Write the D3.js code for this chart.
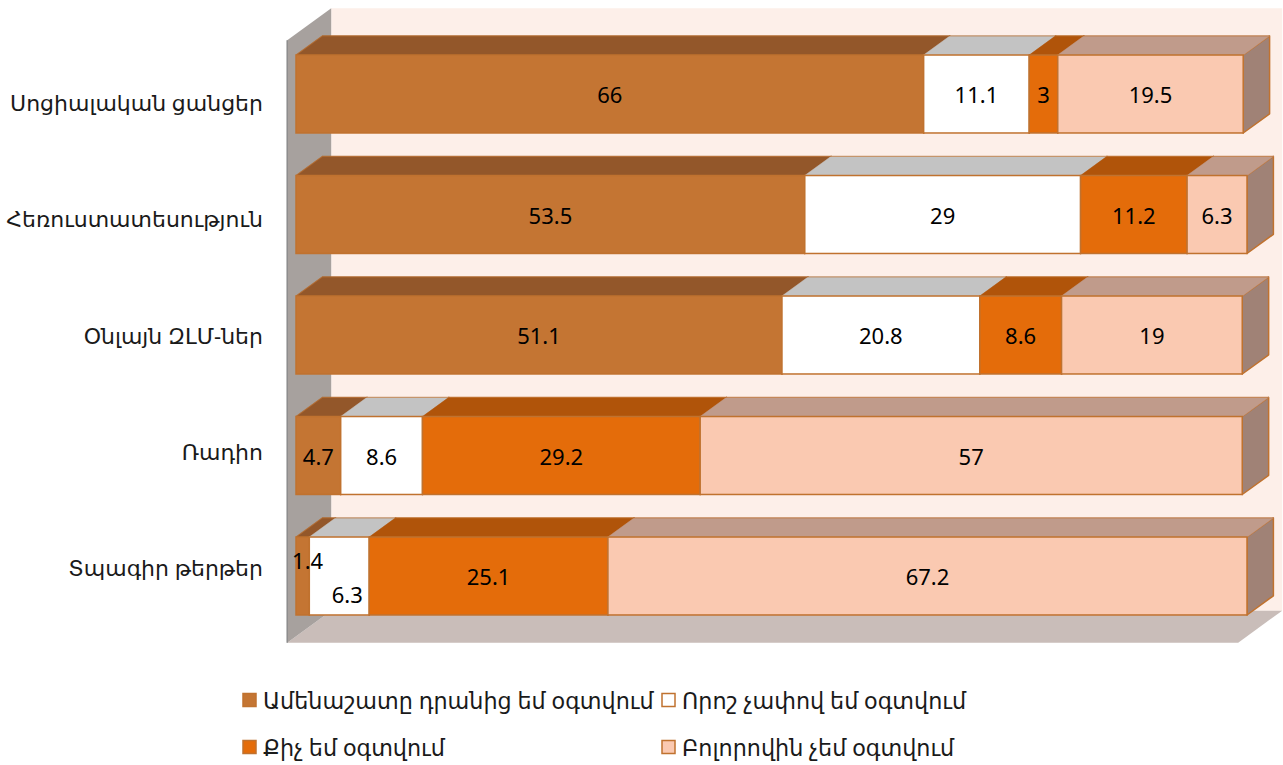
<!DOCTYPE html>
<html>
<head>
<meta charset="utf-8">
<script src="https://cdn.jsdelivr.net/npm/d3@7"></script>
<style>
  html, body { margin: 0; padding: 0; background: #ffffff; }
  svg { display: block; }
</style>
</head>
<body>
<svg id="chart" width="1283" height="765"></svg>
<script>
// Media sources, top to bottom
const categories = [
  "Սոցիալական ցանցեր",
  "Հեռուստատեսություն",
  "Օնլայն ԶԼՄ-ներ",
  "Ռադիո",
  "Տպագիր թերթեր"
];

// Answer options (stack order, left to right)
const seriesNames = [
  "Ամենաշատը դրանից եմ օգտվում",
  "Որոշ չափով եմ օգտվում",
  "Քիչ եմ օգտվում",
  "Բոլորովին չեմ օգտվում"
];

// Percentages per source, one array per answer option
const mostOften  = [66,   53.5, 51.1, 4.7,  1.4];
const somewhat   = [11.1, 29,   20.8, 8.6,  6.3];
const rarely     = [3,    11.2, 8.6,  29.2, 25.1];
const never      = [19.5, 6.3,  19,   57,   67.2];

const seriesValues = [mostOften, somewhat, rarely, never];

// Face colours for each series
const frontColors = ["#C47533", "#FFFFFF", "#E46C0A", "#FAC9B1"];
const topColors   = ["#93572A", "#C3C3C3", "#B0540A", "#C09B8B"];
const sideColors  = ["#7E4A22", "#A3A3A3", "#924608", "#A08276"];
const edgeColor   = "#C0722F";

const rows = categories.map((c, i) => {
  const r = { category: c };
  seriesNames.forEach((s, k) => { r[s] = seriesValues[k][i]; });
  return r;
});

const stacked = d3.stack().keys(seriesNames)(rows);

const svg = d3.select("#chart");

// Scales for the plane holding the bar front faces
const x = d3.scaleLinear().domain([0, 100]).range([296, 1247]);
const y = d3.scaleBand().domain(categories).range([33.75, 636.25])
  .paddingInner(0.353).paddingOuter(0.1765);

// Depth of the 3D box and of each bar within it
const depth = { dx: 44, dy: -32 };
const barOffset = { dx: depth.dx * 0.2, dy: depth.dy * 0.2 };
const barDepth = { dx: depth.dx * 0.6, dy: depth.dy * 0.6 };

// Box corners in the front plane
const fx0 = x(0) - barOffset.dx, fx1 = x(100) - barOffset.dx;
const fy0 = y.range()[0] - barOffset.dy, fy1 = y.range()[1] - barOffset.dy;

const pts = a => a.map(p => p.join(",")).join(" ");

// Back wall
svg.append("polygon")
  .attr("points", pts([[fx0 + depth.dx, fy0 + depth.dy], [fx1 + depth.dx, fy0 + depth.dy],
                       [fx1 + depth.dx, fy1 + depth.dy], [fx0 + depth.dx, fy1 + depth.dy]]))
  .attr("fill", "#FDEFE9");

// Floor
svg.append("polygon")
  .attr("points", pts([[fx0, fy1], [fx1, fy1], [fx1 + depth.dx, fy1 + depth.dy], [fx0 + depth.dx, fy1 + depth.dy]]))
  .attr("fill", "#C9BDB9");

// Left side wall
svg.append("polygon")
  .attr("points", pts([[fx0, fy0], [fx0 + depth.dx, fy0 + depth.dy], [fx0 + depth.dx, fy1 + depth.dy], [fx0, fy1]]))
  .attr("fill", "#A7A19E");
svg.append("line")
  .attr("x1", fx0).attr("y1", fy0).attr("x2", fx0).attr("y2", fy1)
  .attr("stroke", "#8C8C8C").attr("stroke-width", 1.5);

// Bars
const bars = svg.append("g");
categories.forEach((cat, ci) => {
  const g = bars.append("g");
  const yt = y(cat), yb = yt + y.bandwidth();
  stacked.forEach((layer, si) => {
    const d = layer[ci];
    const x0 = x(d[0]), x1 = x(d[1]);
    const seg = g.append("g");
    // right side face
    seg.append("polygon")
      .attr("points", pts([[x1, yt], [x1 + barDepth.dx, yt + barDepth.dy],
                           [x1 + barDepth.dx, yb + barDepth.dy], [x1, yb]]))
      .attr("fill", sideColors[si]).attr("stroke", edgeColor).attr("stroke-width", 1.5)
      .attr("stroke-linejoin", "round");
    // top face
    seg.append("polygon")
      .attr("points", pts([[x0, yt], [x0 + barDepth.dx, yt + barDepth.dy],
                           [x1 + barDepth.dx, yt + barDepth.dy], [x1, yt]]))
      .attr("fill", topColors[si]).attr("stroke", topColors[si]).attr("stroke-width", 0.5);
    // front face
    seg.append("rect")
      .attr("x", x0).attr("y", yt).attr("width", x1 - x0).attr("height", y.bandwidth())
      .attr("fill", frontColors[si]).attr("stroke", edgeColor).attr("stroke-width", 1.5);
  });
  // outline of the whole top edge
  g.append("polyline")
    .attr("points", pts([[x(0), yt], [x(0) + barDepth.dx, yt + barDepth.dy],
      [x(stacked[stacked.length - 1][ci][1]) + barDepth.dx, yt + barDepth.dy]]))
    .attr("fill", "none").attr("stroke", edgeColor).attr("stroke-width", 1.2).attr("opacity", 0.6);
});

// Value labels; the two thin left segments of the last row are staggered
const labelNudge = {
  "4|0": [5, -16],
  "4|1": [8, 18]
};
const labels = svg.append("g")
  .attr("font-family", "'Noto Sans', 'DejaVu Sans', sans-serif")
  .attr("font-size", 22).attr("fill", "#000");
categories.forEach((cat, ci) => {
  stacked.forEach((layer, si) => {
    const d = layer[ci];
    const n = labelNudge[ci + "|" + si] || [0, 0];
    labels.append("text")
      .attr("x", (x(d[0]) + x(d[1])) / 2 + n[0])
      .attr("y", y(cat) + y.bandwidth() / 2 + n[1])
      .attr("text-anchor", "middle").attr("dominant-baseline", "central")
      .text(seriesValues[si][ci]);
  });
});

// Category axis labels on the front edge of the side wall
const yLab = d3.scaleBand().domain(categories).range([44, 625]);
svg.append("g")
  .attr("font-family", "'Noto Sans', 'DejaVu Sans', sans-serif")
  .attr("font-size", 22).attr("fill", "#1a1a1a")
  .selectAll("text").data(categories).join("text")
  .attr("x", 263)
  .attr("y", d => yLab(d) + yLab.bandwidth() / 2)
  .attr("text-anchor", "end").attr("dominant-baseline", "central")
  .text(d => d);

// Legend, two columns by two rows
const legendPos = [[243, 700], [662, 700], [243, 747], [662, 747]];
const legend = svg.append("g")
  .attr("font-family", "'Noto Sans', 'DejaVu Sans', sans-serif")
  .attr("font-size", 22.3).attr("fill", "#1a1a1a");
seriesNames.forEach((s, i) => {
  const [lx, ly] = legendPos[i];
  legend.append("rect")
    .attr("x", lx).attr("y", ly - 6.5).attr("width", 13).attr("height", 13)
    .attr("fill", frontColors[i]).attr("stroke", edgeColor).attr("stroke-width", 1.5);
  legend.append("text")
    .attr("x", lx + 20).attr("y", ly)
    .attr("dominant-baseline", "central")
    .text(s);
});
</script>
</body>
</html>
